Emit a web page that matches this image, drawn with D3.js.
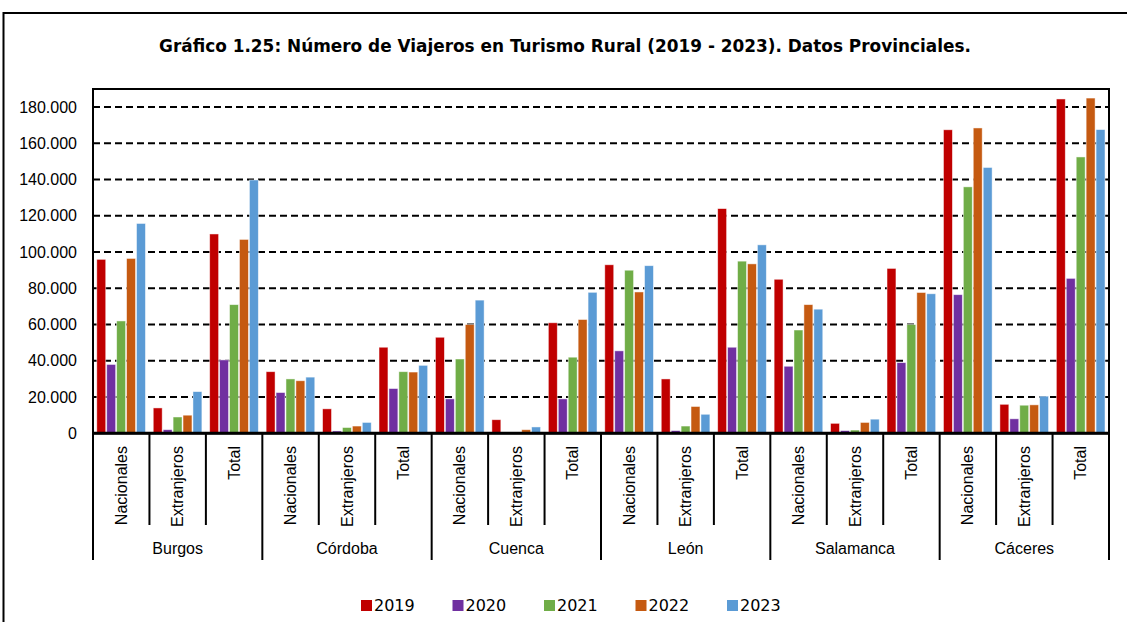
<!DOCTYPE html>
<html>
<head>
<meta charset="utf-8">
<script src="https://d3js.org/d3.v7.min.js"></script>
<style>
  body { margin: 0; background: #fff; }
  text { font-family: "Liberation Sans", Arial, sans-serif; fill: #000; }
</style>
</head>
<body>
<script>
'use strict';

// provinces and sub categories on the x axis
const provinces = ["Burgos", "Córdoba", "Cuenca", "León", "Salamanca", "Cáceres"];
const subcats = ["Nacionales", "Extranjeros", "Total"];
const years = ["2019", "2020", "2021", "2022", "2023"];
const colors = ["#C00000", "#7030A0", "#70AD47", "#C55A11", "#5B9BD5"];

// one value per province/subcat, same order as above
const v2019 = [96000, 14000, 110000, 34000, 13500, 47500, 53000, 7500, 61000, 93000, 30000, 124000, 85000, 5500, 91000, 167500, 16000, 184500];
const v2020 = [38000, 2000, 40500, 22500, 1300, 24700, 19000, 0, 19000, 45500, 1500, 47500, 37000, 1500, 39000, 76500, 8000, 85500];
const v2021 = [62000, 9000, 71000, 30000, 3200, 34000, 41000, 0, 42000, 90000, 4000, 95000, 57000, 1800, 60000, 136000, 15500, 152500];
const v2022 = [96500, 10000, 107000, 29000, 4000, 33800, 60000, 2000, 62800, 78000, 14800, 93500, 71000, 6000, 77700, 168500, 15700, 185000];
const v2023 = [115800, 23000, 139800, 31000, 6000, 37500, 73500, 3500, 77800, 92500, 10500, 104000, 68500, 7800, 77000, 146700, 20500, 167600];
const yTicks = [0, 20000, 40000, 60000, 80000, 100000, 120000, 140000, 160000, 180000];

(function() {

  let svg = "";

  window.onload = function() {
    svg = d3.select('body')
      .append('svg')
      .attr('width', 1127)
      .attr('height', 622);
    drawChart();
  }

  function drawChart() {
    let series = [v2019, v2020, v2021, v2022, v2023];
    let cats = [];
    provinces.forEach(p => subcats.forEach(s => cats.push(p + "|" + s)));

    // outer frame (runs off the right and bottom of the picture)
    svg.append('rect')
      .attr('x', 3.5).attr('y', 13)
      .attr('width', 1140).attr('height', 640)
      .attr('fill', 'none').attr('stroke', '#000').attr('stroke-width', 2);

    svg.append('text')
      .attr('x', 565).attr('y', 52)
      .attr('text-anchor', 'middle')
      .style('font-family', '"DejaVu Sans", Verdana, sans-serif')
      .style('font-weight', 'bold')
      .style('font-size', '16.9px')
      .text("Gráfico 1.25: Número de Viajeros en Turismo Rural (2019 - 2023). Datos Provinciales.");

    let x = d3.scaleBand().domain(cats).range([93, 1109]);
    let xYear = d3.scaleBand().domain(years).range([2.8, x.bandwidth() - 3]).padding(0.1);
    let y = d3.scaleLinear().domain([0, 190000]).range([433.3, 89]);

    // dashed grid lines
    svg.append('g').selectAll('line')
      .data(yTicks.slice(1))
      .enter().append('line')
      .attr('x1', 93).attr('x2', 1109)
      .attr('y1', d => y(d)).attr('y2', d => y(d))
      .attr('stroke', '#000').attr('stroke-width', 2)
      .attr('stroke-dasharray', '7,4');

    // y axis labels
    let yAxis = d3.axisLeft(y).tickValues(yTicks).tickSize(0).tickPadding(16)
      .tickFormat(d => d3.format(',')(d).replace(/,/g, '.'));
    let ya = svg.append('g').attr('transform', 'translate(93,0)').call(yAxis);
    ya.select('.domain').remove();
    ya.selectAll('text')
      .style('font-family', '"Liberation Sans", Arial, sans-serif')
      .style('font-size', '16px').attr('fill', '#000');

    // bars
    series.forEach((vals, i) => {
      svg.append('g').selectAll('rect')
        .data(vals)
        .enter().append('rect')
        .attr('x', (d, j) => x(cats[j]) + xYear(years[i]))
        .attr('y', d => y(d))
        .attr('width', xYear.bandwidth())
        .attr('height', d => y(0) - y(d))
        .attr('fill', colors[i])
        .attr('stroke', d => d > 0 ? '#fff' : 'none')
        .attr('stroke-opacity', 0.6)
        .attr('stroke-width', 0.8);
    });

    // plot frame and base line
    svg.append('rect')
      .attr('x', 93).attr('y', 89)
      .attr('width', 1016).attr('height', 344.3)
      .attr('fill', 'none').attr('stroke', '#000').attr('stroke-width', 2);
    svg.append('line')
      .attr('x1', 92).attr('x2', 1110)
      .attr('y1', y(0)).attr('y2', y(0))
      .attr('stroke', '#000').attr('stroke-width', 3);

    // category dividers below the axis
    let bounds = cats.map(c => x(c)).concat([1109]);
    svg.append('g').selectAll('line')
      .data(bounds)
      .enter().append('line')
      .attr('x1', d => d).attr('x2', d => d)
      .attr('y1', y(0))
      .attr('y2', (d, i) => i % 3 === 0 ? 560 : 525)
      .attr('stroke', '#000').attr('stroke-width', 2);

    // sub category labels (rotated)
    svg.append('g').selectAll('text')
      .data(cats)
      .enter().append('text')
      .attr('transform', d => 'translate(' + (x(d) + x.bandwidth() / 2 + 5.5) + ',446)rotate(-90)')
      .attr('text-anchor', 'end')
      .style('font-size', '16px')
      .text(d => d.split('|')[1]);

    // province labels
    svg.append('g').selectAll('text')
      .data(provinces)
      .enter().append('text')
      .attr('x', d => x(d + '|Extranjeros') + x.bandwidth() / 2)
      .attr('y', 554)
      .attr('text-anchor', 'middle')
      .style('font-size', '16px')
      .text(d => d);

    // legend
    let leg = svg.append('g').selectAll('g')
      .data(years)
      .enter().append('g')
      .attr('transform', (d, i) => 'translate(' + (361 + i * 91.5) + ',600)');
    leg.append('rect')
      .attr('width', 11).attr('height', 11)
      .attr('fill', (d, i) => colors[i]);
    leg.append('text')
      .attr('x', 13).attr('y', 11)
      .style('font-family', '"DejaVu Sans", Verdana, sans-serif')
      .style('font-size', '16px')
      .text(d => d);
  }

})();
</script>
</body>
</html>
